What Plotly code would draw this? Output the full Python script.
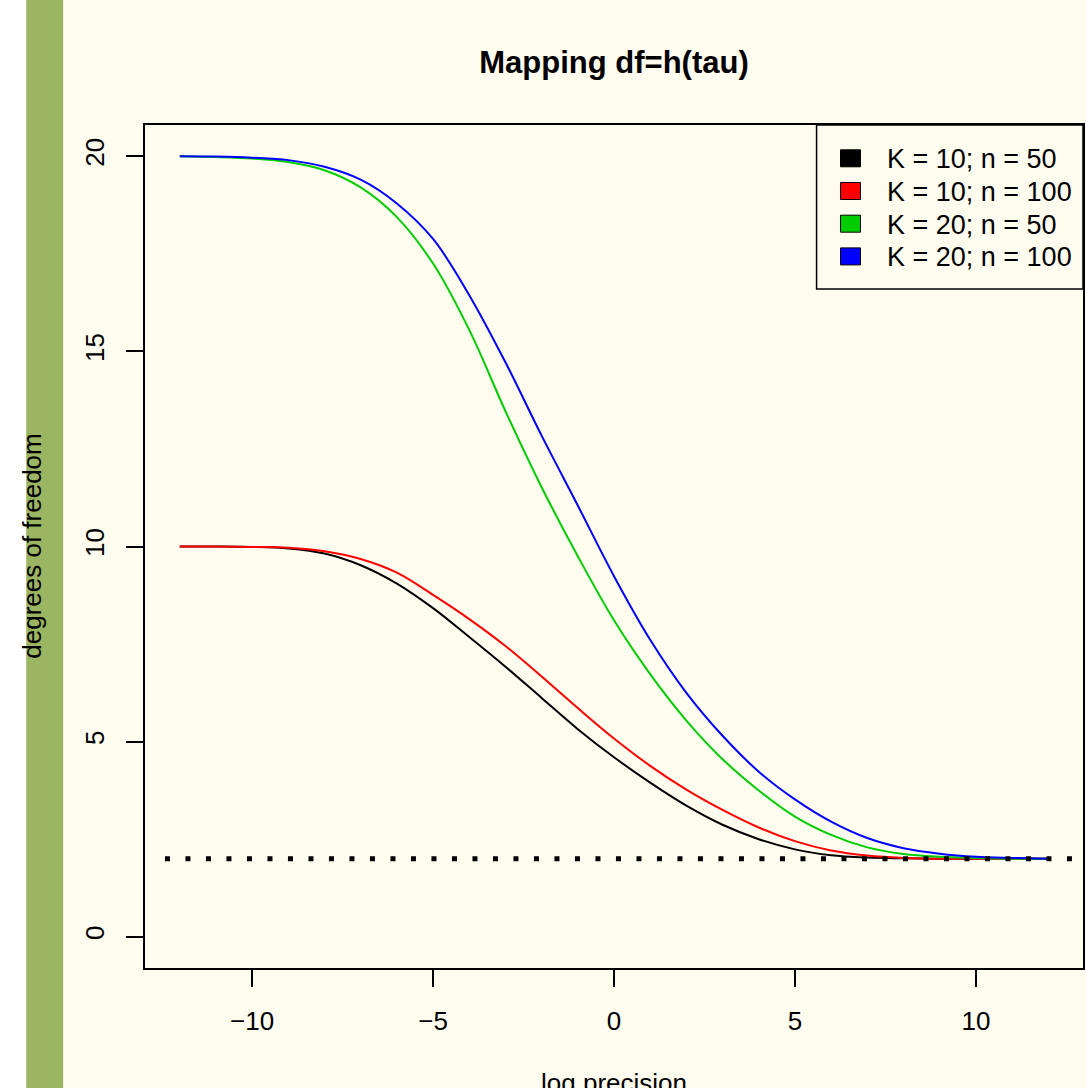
import plotly.graph_objects as go

# ---- data ----
log_precision = list(range(-12, 13))
df_K10_n50 = [10.0, 10.0, 9.99, 9.95, 9.82, 9.52, 9.05, 8.42, 7.68, 6.92, 6.12, 5.32, 4.60,
              3.95, 3.36, 2.87, 2.50, 2.24, 2.09, 2.03, 2.01, 2.0, 2.0, 2.0, 2.0]
df_K10_n100 = [10.0, 10.0, 9.99, 9.97, 9.88, 9.68, 9.33, 8.76, 8.14, 7.45, 6.67, 5.86, 5.08,
               4.38, 3.77, 3.25, 2.80, 2.45, 2.21, 2.08, 2.02, 2.0, 2.0, 2.0, 2.0]
df_K20_n50 = [20.0, 19.98, 19.94, 19.85, 19.64, 19.20, 18.44, 17.25, 15.55, 13.47, 11.52, 9.75, 8.11,
              6.73, 5.54, 4.55, 3.75, 3.08, 2.61, 2.29, 2.12, 2.05, 2.02, 2.0, 2.0]
df_K20_n100 = [20.0, 19.99, 19.96, 19.9, 19.73, 19.40, 18.79, 17.88, 16.44, 14.72, 12.84, 11.05, 9.24,
               7.61, 6.25, 5.15, 4.23, 3.52, 2.95, 2.53, 2.27, 2.13, 2.05, 2.02, 2.0]
series_names = ["K = 10; n = 50", "K = 10; n = 100", "K = 20; n = 50", "K = 20; n = 100"]
series_values = [df_K10_n50, df_K10_n100, df_K20_n50, df_K20_n100]
series_colors = ["#000000", "#FF0000", "#00CD00", "#0000FF"]
lower_bound_df = 2
x_ticks = [-10, -5, 0, 5, 10]
y_ticks = [0, 5, 10, 15, 20]

# ---- layout geometry (pixels) ----
W, H = 1086, 1088
L, R, T, B = 145, 1, 125, 120
PW, PH = W - L - R, H - T - B
BG = "#FEFCEE"
FONT = "Liberation Sans, Arial, Helvetica, sans-serif"


def px(x):
    return (x - L) / PW


def py(y):
    return (H - B - y) / PH


fig = go.Figure()
for name, vals, col in zip(series_names, series_values, series_colors):
    fig.add_trace(go.Scatter(x=log_precision, y=vals, mode="lines", name=name,
                             line=dict(color=col, width=2, shape="spline", smoothing=1.0),
                             showlegend=False, cliponaxis=True, hoverinfo="skip"))

shapes = []
# page decoration: white strip + green bar on the left
shapes.append(dict(type="rect", xref="paper", yref="paper", x0=px(-5), x1=px(26), y0=py(H + 5), y1=py(-5),
                   fillcolor="#FFFFFF", line=dict(width=0), layer="below"))
shapes.append(dict(type="rect", xref="paper", yref="paper", x0=px(26), x1=px(63), y0=py(H + 5), y1=py(-5),
                   fillcolor="#9BB562", line=dict(width=0), layer="below"))
# dotted reference line at df = 2
shapes.append(dict(type="line", xref="paper", yref="y", x0=px(165), x1=1, y0=lower_bound_df, y1=lower_bound_df,
                   line=dict(color="black", width=5, dash="5px,15.5px")))
# legend box
shapes.append(dict(type="rect", xref="paper", yref="paper", x0=px(818), x1=px(1085), y0=py(289), y1=py(125),
                   fillcolor=BG, line=dict(color="black", width=1.5)))

annotations = []
row_y = [158.3, 191.0, 223.7, 256.4]
for name, col, ry in zip(series_names, series_colors, row_y):
    shapes.append(dict(type="rect", xref="paper", yref="paper", x0=px(842), x1=px(862),
                       y0=py(ry + 8.5), y1=py(ry - 8.5), fillcolor=col, line=dict(color="black", width=1)))
    annotations.append(dict(text=name, xref="paper", yref="paper", x=px(887), y=py(ry + 1),
                            xanchor="left", yanchor="middle", showarrow=False,
                            font=dict(family=FONT, size=27, color="black")))

# axis titles
annotations.append(dict(text="degrees of freedom", xref="paper", yref="paper", x=px(31), y=0.5,
                        xanchor="center", yanchor="middle", textangle=-90, showarrow=False,
                        font=dict(family=FONT, size=26, color="black")))
annotations.append(dict(text="log precision", xref="paper", yref="paper", x=0.5, y=py(1066),
                        xanchor="center", yanchor="top", showarrow=False,
                        font=dict(family=FONT, size=26, color="black")))

fig.update_layout(
    width=W, height=H,
    margin=dict(l=L, r=R, t=T, b=B, pad=0),
    paper_bgcolor=BG, plot_bgcolor=BG,
    font=dict(family=FONT, size=26, color="black"),
    title=dict(text="<b>Mapping df=h(tau)</b>", x=0.5, xref="paper", xanchor="center",
               y=1 - 62 / H, yref="container", yanchor="middle",
               font=dict(family=FONT, size=31, color="black")),
    shapes=shapes, annotations=annotations, showlegend=False,
)
fig.update_xaxes(range=[-12.96, 12.96], tickvals=x_ticks, ticks="outside", ticklen=17, tickwidth=1.5,
                 tickcolor="black", showgrid=False, zeroline=False, showline=True, mirror=True,
                 linecolor="black", linewidth=1.5, ticklabelstandoff=12,
                 tickfont=dict(family=FONT, size=26, color="black"))
fig.update_yaxes(range=[-0.8, 20.8], tickvals=y_ticks, ticks="outside", ticklen=17, tickwidth=1.5,
                 tickcolor="black", showgrid=False, zeroline=False, showline=True, mirror=True,
                 linecolor="black", linewidth=1.5, tickangle=-90, ticklabelstandoff=12,
                 tickfont=dict(family=FONT, size=26, color="black"))

fig.write_html("out.html", config={"displayModeBar": False},
               post_script="document.body.style.margin='0';document.body.style.padding='0';"
                           "document.documentElement.style.overflow='hidden';")
